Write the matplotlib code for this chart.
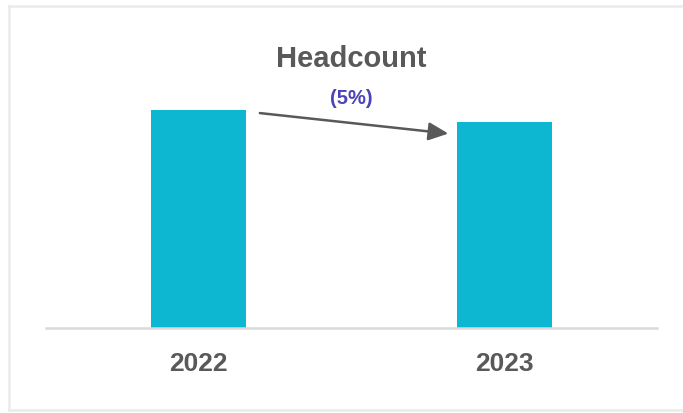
import matplotlib
matplotlib.use("Agg")
import matplotlib.pyplot as plt
from matplotlib.lines import Line2D

years = ["2022", "2023"]
headcount = [100, 94.5]
change_label = "(5%)"
title = "Headcount"

W, H = 683, 413
fig = plt.figure(figsize=(W / 100, H / 100), dpi=100)
fig.patch.set_facecolor("white")

# outer frame (left, top, bottom edges)
fc = "#EBEBEB"
fx0, fy_top, fy_bot = 9 / W, 1 - 6 / H, 1 - 410 / H
for xs, ys in [([fx0, fx0], [fy_bot, fy_top]), ([fx0, 1.0], [fy_top, fy_top]),
               ([fx0, 1.0], [fy_bot, fy_bot])]:
    fig.add_artist(Line2D(xs, ys, transform=fig.transFigure, color=fc, lw=1.8))

ax = fig.add_axes([46 / W, 85 / H, 611 / W, 308 / H])
x = list(range(len(years)))
ax.bar(x, headcount, width=0.31, color="#0EB7D1", zorder=2)
ax.set_xlim(-0.5, 1.5)
ax.set_ylim(0, 141.3)
for s in ["top", "right", "left"]:
    ax.spines[s].set_visible(False)
ax.spines["bottom"].set_color("#D9D9D9")
ax.spines["bottom"].set_linewidth(1.8)
ax.set_yticks([])
ax.set_xticks(x)
ax.set_xticklabels(years, fontsize=19, fontweight="bold", color="#595959",
                   family="Liberation Sans")
ax.tick_params(axis="x", length=0, pad=17)

ax.text(0.5, 0.872, title, transform=ax.transAxes, ha="center", va="center",
        fontsize=21, fontweight="bold", color="#595959", family="Liberation Sans")
ax.text(0.5, 0.745, change_label, transform=ax.transAxes, ha="center", va="center",
        fontsize=14.5, fontweight="bold", color="#4B44B8", family="Liberation Sans")

ax.annotate("", xy=(0.817, headcount[1] - 5.3), xytext=(0.2, headcount[0] - 1.4),
            arrowprops=dict(arrowstyle="-|>,head_length=1.2,head_width=0.55",
                            color="#595959", lw=1.8, shrinkA=0, shrinkB=0))

fig.savefig("out.png", dpi=100, facecolor="white")
